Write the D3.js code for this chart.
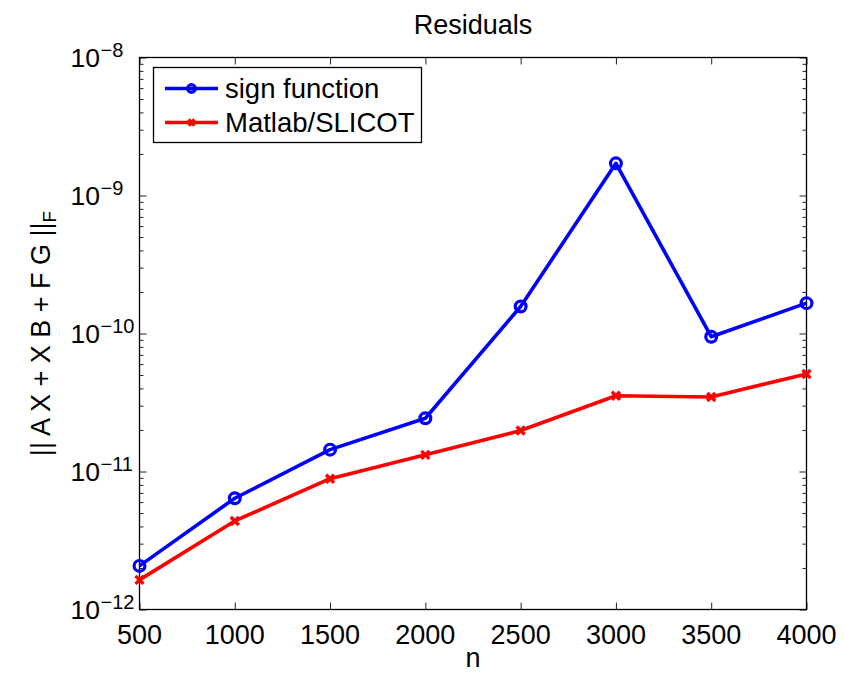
<!DOCTYPE html>
<html>
<head>
<meta charset="utf-8">
<script src="https://cdn.jsdelivr.net/npm/d3@7"></script>
<style>
  html, body { margin: 0; padding: 0; background: #fff; }
  svg { display: block; font-family: "Liberation Sans", Arial, Helvetica, sans-serif; }
</style>
</head>
<body>
<div id="chart"></div>
<script>
// données
const sizes = [500, 1000, 1500, 2000, 2500, 3000, 3500, 4000]
const signFunction = [2.07e-12, 6.4e-12, 1.44e-11, 2.43e-11, 1.57e-10, 1.71e-9, 9.48e-11, 1.66e-10]
const slicot = [1.64e-12, 4.38e-12, 8.87e-12, 1.32e-11, 1.98e-11, 3.54e-11, 3.47e-11, 5.09e-11]
const xTicks = [500, 1000, 1500, 2000, 2500, 3000, 3500, 4000]
const yExponents = [-12, -11, -10, -9, -8]
const seriesNames = ["sign function", "Matlab/SLICOT"]

const W = 844, H = 673
const plot = { left: 139.5, right: 806.5, top: 57.5, bottom: 609.5 }

const svg = d3.select("#chart").append("svg")
  .attr("width", W).attr("height", H)
  .attr("viewBox", `0 0 ${W} ${H}`)

const x = d3.scaleLinear().domain([500, 4000]).range([plot.left, plot.right])
const y = d3.scaleLog().domain([1e-12, 1e-8]).range([plot.bottom, plot.top])

// ticks mineurs log (2..9 par décade)
const minor = []
for (let e = -12; e < -8; e++) for (let m = 2; m <= 9; m++) minor.push(m * Math.pow(10, e))
const majors = yExponents.map((e) => Math.pow(10, e))

const tickColor = "#222"
function ticksY(side, vals, len) {
  const g = svg.append("g")
    .attr("transform", `translate(${side === "left" ? plot.left : plot.right},0)`)
    .call((side === "left" ? d3.axisRight(y) : d3.axisLeft(y))
      .tickValues(vals).tickSize(len).tickFormat(""))
  g.select(".domain").remove()
  g.selectAll("line").attr("stroke", tickColor).attr("stroke-width", 1)
}
ticksY("left", minor, 4)
ticksY("right", minor, 4)
ticksY("left", majors, 7)
ticksY("right", majors, 7)

function ticksX(side) {
  const g = svg.append("g")
    .attr("transform", `translate(0,${side === "bottom" ? plot.bottom : plot.top})`)
    .call((side === "bottom" ? d3.axisTop(x) : d3.axisBottom(x))
      .tickValues(xTicks).tickSize(7).tickFormat(""))
  g.select(".domain").remove()
  g.selectAll("line").attr("stroke", tickColor).attr("stroke-width", 1)
}
ticksX("bottom")
ticksX("top")

// cadre
svg.append("rect")
  .attr("x", plot.left).attr("y", plot.top)
  .attr("width", plot.right - plot.left).attr("height", plot.bottom - plot.top)
  .attr("fill", "none").attr("stroke", "#000").attr("stroke-width", 1.3)

// labels x
svg.append("g").selectAll("text")
  .data(xTicks).join("text")
  .attr("x", (d) => x(d)).attr("y", plot.bottom + 34)
  .attr("text-anchor", "middle").attr("font-size", 27).attr("fill", "#000")
  .text((d) => d)

// labels y : 10^e
svg.append("g").selectAll("text")
  .data(yExponents).join("text")
  .attr("x", 100).attr("y", (e) => y(Math.pow(10, e)) + 9.5)
  .attr("font-size", 26.5).attr("fill", "#000")
  .attr("text-anchor", "end")
  .text("10")
svg.append("g").selectAll("text")
  .data(yExponents).join("text")
  .attr("x", 100.5).attr("y", (e) => y(Math.pow(10, e)) - 1)
  .attr("font-size", 20).attr("fill", "#000")
  .text((e) => "\u2212" + Math.abs(e))

// titre, axes
svg.append("text")
  .attr("x", (plot.left + plot.right) / 2).attr("y", 34)
  .attr("text-anchor", "middle").attr("font-size", 27).attr("fill", "#000")
  .text("Residuals")

svg.append("text")
  .attr("x", (plot.left + plot.right) / 2).attr("y", 667)
  .attr("text-anchor", "middle").attr("font-size", 27).attr("fill", "#000")
  .text("n")

const ylab = svg.append("text")
  .attr("transform", `translate(50,${(plot.top + plot.bottom) / 2}) rotate(-90)`)
  .attr("text-anchor", "middle").attr("font-size", 27).attr("fill", "#000")
ylab.append("tspan").text("|| A X + X B + F G ||")
ylab.append("tspan").attr("font-size", 19).attr("dy", 6).text("F")

// séries
const colors = ["#0000ff", "#ff0000"]
const series = [signFunction, slicot]
const line = d3.line().x((d, i) => x(sizes[i])).y((d) => y(d))

series.forEach((vals, k) => {
  svg.append("path")
    .datum(vals)
    .attr("d", line)
    .attr("fill", "none").attr("stroke", colors[k])
    .attr("stroke-width", 3.6).attr("stroke-linejoin", "round")
})

function circleMark(sel, r) {
  sel.append("circle").attr("r", r)
    .attr("fill", "none").attr("stroke", colors[0]).attr("stroke-width", 3.2)
}
function crossMark(sel, s) {
  sel.append("path").attr("d", `M${-s},${-s}L${s},${s}M${-s},${s}L${s},${-s}`)
    .attr("stroke", colors[1]).attr("stroke-width", 3.4).attr("fill", "none")
}

svg.append("g").selectAll("g")
  .data(signFunction).join("g")
  .attr("transform", (d, i) => `translate(${x(sizes[i])},${y(d)})`)
  .each(function () { circleMark(d3.select(this), 5.4) })

svg.append("g").selectAll("g")
  .data(slicot).join("g")
  .attr("transform", (d, i) => `translate(${x(sizes[i])},${y(d)})`)
  .each(function () { crossMark(d3.select(this), 4) })

// légende
const legend = svg.append("g")
legend.append("rect")
  .attr("x", 153.5).attr("y", 67.5).attr("width", 268).attr("height", 75)
  .attr("fill", "#fff").attr("stroke", "#000").attr("stroke-width", 1.3)
const rowsY = [88.5, 122.5]
seriesNames.forEach((name, k) => {
  const row = legend.append("g").attr("transform", `translate(0,${rowsY[k]})`)
  row.append("line").attr("x1", 165).attr("x2", 218)
    .attr("stroke", colors[k]).attr("stroke-width", 3.6)
  const m = row.append("g").attr("transform", "translate(191.5,0)")
  if (k === 0) circleMark(m, 3.8); else crossMark(m, 3)
  row.append("text").attr("x", 225).attr("y", 9.5)
    .attr("font-size", 27.5).attr("fill", "#000").text(name)
})
</script>
</body>
</html>
